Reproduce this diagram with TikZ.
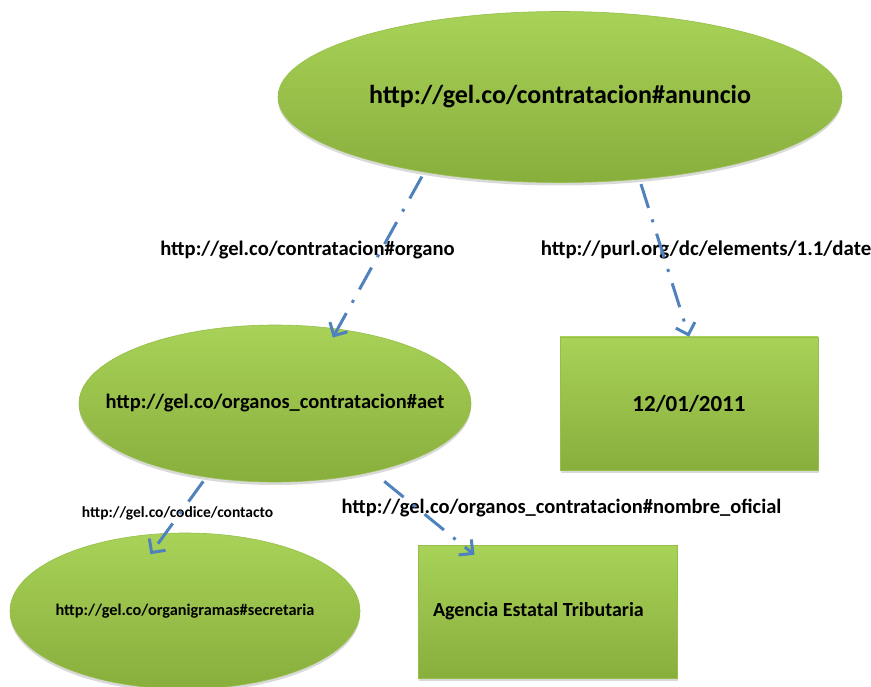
\documentclass[tikz,border=0pt]{standalone}
\usepackage{fontspec}
\setmainfont{Carlito}
\usepackage{xcolor}
\usepackage{tikz}
\usetikzlibrary{arrows.meta}
\usetikzlibrary{shapes.geometric}
\usetikzlibrary{shadows}

\definecolor{lightgreen}{RGB}{168,210,88}
\definecolor{darkgreen}{RGB}{136,174,60}
\definecolor{edgegreen}{RGB}{150,190,74}
\definecolor{linkblue}{RGB}{79,129,189}

\begin{document}
\begin{tikzpicture}[x=1pt,y=-1pt,semithick]
 	\tikzstyle{resource}=[ellipse, top color=lightgreen, bottom color=darkgreen, draw=edgegreen, inner xsep=-60pt, inner ysep=0pt, drop shadow={opacity=0.3,shadow xshift=0pt,shadow yshift=-3pt}]
 	\tikzstyle{literal}=[rectangle, top color=lightgreen, bottom color=darkgreen, draw=edgegreen, drop shadow={opacity=0.3,shadow xshift=1pt,shadow yshift=-3pt}]
 	\tikzstyle{property}=[draw=linkblue, line width=3pt, dash pattern=on 25pt off 12pt on 3pt off 12pt, -{Straight Barb[length=10pt,width=20pt]}, shorten <=5pt]
 	\tikzstyle{plabel}=[inner sep=1pt]
 	\useasboundingbox (0,0) rectangle (871,687);

			\node[resource, minimum width=564pt, minimum height=171pt, font=\bfseries\fontsize{26}{30}\selectfont] (anuncio) at (560,97) {http://gel.co/contratacion\#anuncio};
			\node[resource, minimum width=392pt, minimum height=157pt, font=\bfseries\fontsize{20.5}{24}\selectfont] (aet) at (275,403.5) {http://gel.co/organos\_contratacion\#aet};
			\node[resource, minimum width=350pt, minimum height=156pt, font=\bfseries\fontsize{16.3}{19}\selectfont] (secretaria) at (185,611) {http://gel.co/organigramas\#secretaria};
			\node[literal, minimum width=258pt, minimum height=133pt, font=\bfseries\fontsize{23}{27}\selectfont] (fecha) at (689,403.5) {12/01/2011};
			\node[literal, text width=229pt, inner xsep=15pt, align=flush left, minimum height=133pt, font=\bfseries\fontsize{20}{24}\selectfont] (agencia) at (547.5,611.5) {Agencia Estatal Tributaria};

			\node[plabel, font=\bfseries\fontsize{20.6}{24}\selectfont] (organo) at (307.5,250) {http://gel.co/contratacion\#organo};
			\node[plabel, font=\bfseries\fontsize{20.9}{24}\selectfont] (date) at (706,250) {http://purl.org/dc/elements/1.1/date};
			\node[plabel, font=\bfseries\fontsize{15.5}{18}\selectfont] (contacto) at (177.5,513) {http://gel.co/codice/contacto};
			\node[plabel, font=\bfseries\fontsize{20.5}{24}\selectfont] (nombre) at (561.5,508) {http://gel.co/organos\_contratacion\#nombre\_oficial};

			\draw[property, shorten >=-10pt] (anuncio.209) -- (aet.50);
			\draw[property] (anuncio.314) -- (fecha.north);
			\draw[property, shorten >=-26pt] (aet.227) -- (secretaria.104);
			\draw[property, shorten <=15pt, shorten >=-16pt] (aet.325) -- (agencia.142);
\end{tikzpicture}
\end{document}
